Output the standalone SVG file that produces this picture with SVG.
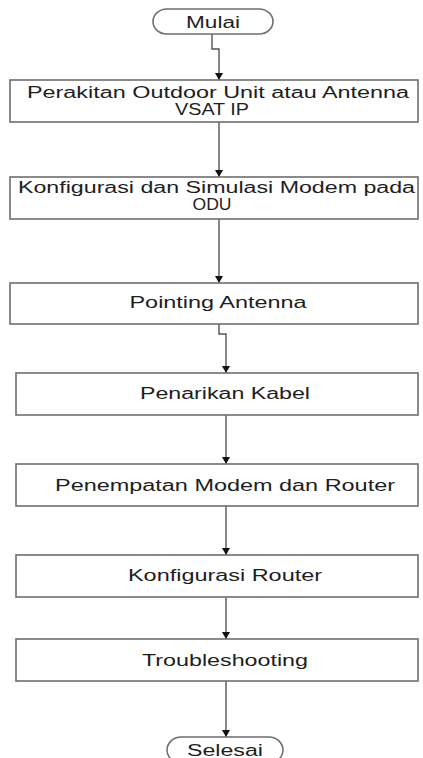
<svg xmlns="http://www.w3.org/2000/svg" width="423" height="758" viewBox="0 0 423 758">
<defs>
<marker id="ah" markerWidth="8" markerHeight="8" refX="7" refY="4" orient="auto" markerUnits="userSpaceOnUse">
<path d="M0,0 L7,4 L0,8 Z" fill="#111"/>
</marker>
<style>
.box{fill:#fff;stroke:#6e6e6e;stroke-width:1.6}
.t{font-family:"Liberation Sans",Arial,sans-serif;font-size:16px;fill:#1e1e1e;text-anchor:middle}
.c{fill:none;stroke:#555;stroke-width:1.4;marker-end:url(#ah)}
</style>
</defs>
<rect width="423" height="758" fill="#fff"/>
<g id="connectors">
<path class="c" d="M212,34 V49 H219 V80"/>
<path class="c" d="M219,122 V177"/>
<path class="c" d="M219,219 V283"/>
<path class="c" d="M219,324 V334 H226 V373"/>
<path class="c" d="M226,415 V464"/>
<path class="c" d="M226,506 V555"/>
<path class="c" d="M226,597 V639"/>
<path class="c" d="M226,681 V737"/>
</g>
<g id="mulai">
<rect class="box" x="153" y="9" width="120" height="25" rx="14" ry="12.5"/>
<text class="t" x="213" y="27.5" textLength="54" lengthAdjust="spacingAndGlyphs">Mulai</text>
</g>
<g id="n1">
<rect class="box" x="10" y="80" width="408" height="42"/>
<text class="t" x="218" y="97.5" textLength="382" lengthAdjust="spacingAndGlyphs">Perakitan Outdoor Unit atau Antenna</text>
<text class="t" x="212" y="115" textLength="74" lengthAdjust="spacingAndGlyphs">VSAT IP</text>
</g>
<g id="n2">
<rect class="box" x="10" y="177" width="408" height="42"/>
<text class="t" x="216.5" y="192.5" textLength="397" lengthAdjust="spacingAndGlyphs">Konfigurasi dan Simulasi Modem pada</text>
<text class="t" x="212" y="210" textLength="39" lengthAdjust="spacingAndGlyphs">ODU</text>
</g>
<g id="n3">
<rect class="box" x="10" y="283" width="408" height="41"/>
<text class="t" x="218" y="307.5" textLength="177" lengthAdjust="spacingAndGlyphs">Pointing Antenna</text>
</g>
<g id="n4">
<rect class="box" x="16" y="373" width="402" height="42"/>
<text class="t" x="225" y="398.5" textLength="170" lengthAdjust="spacingAndGlyphs">Penarikan Kabel</text>
</g>
<g id="n5">
<rect class="box" x="16" y="464" width="402" height="42"/>
<text class="t" x="225" y="490.5" textLength="340" lengthAdjust="spacingAndGlyphs">Penempatan Modem dan Router</text>
</g>
<g id="n6">
<rect class="box" x="16" y="555" width="402" height="42"/>
<text class="t" x="225" y="580.5" textLength="194" lengthAdjust="spacingAndGlyphs">Konfigurasi Router</text>
</g>
<g id="n7">
<rect class="box" x="16" y="639" width="402" height="42"/>
<text class="t" x="225" y="665.5" textLength="166" lengthAdjust="spacingAndGlyphs">Troubleshooting</text>
</g>
<g id="selesai">
<rect class="box" x="167" y="737" width="116" height="26" rx="14" ry="13"/>
<text class="t" x="225" y="755.5" textLength="76" lengthAdjust="spacingAndGlyphs">Selesai</text>
</g>
</svg>
